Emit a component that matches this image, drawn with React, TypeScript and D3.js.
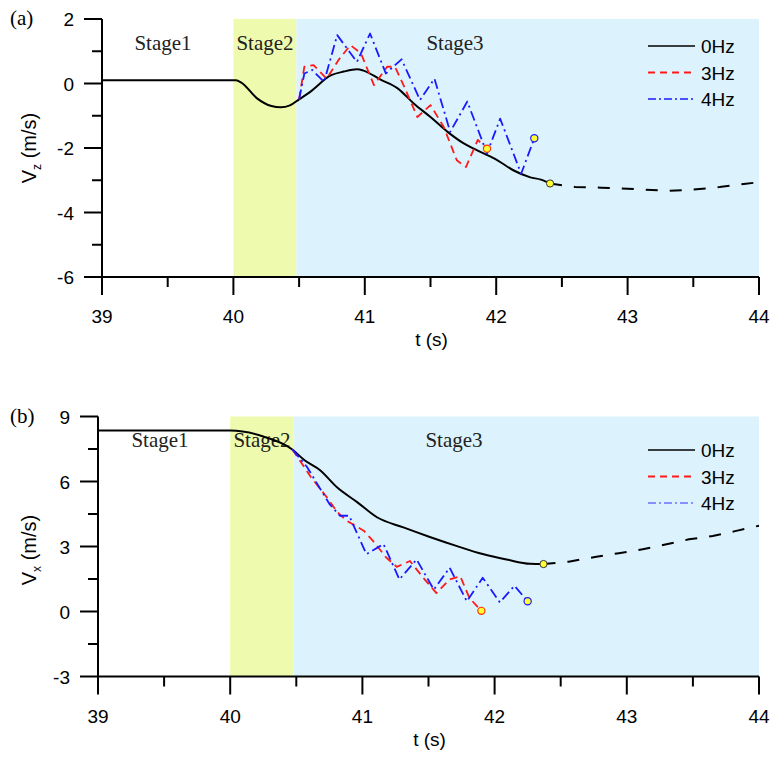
import React from 'react';
import * as d3 from 'd3';

// panel (a): vertical velocity
const tZ0 = [39, 40.02, 40.06, 40.18, 40.29, 40.36, 40.43, 40.5, 40.585, 40.74, 40.84, 40.94, 40.99, 41.12, 41.25, 41.37, 41.5, 41.63, 41.75, 41.88, 42.01, 42.13, 42.26, 42.34, 42.41];
const vZ0 = [0.1, 0.1, 0.03, -0.46, -0.7, -0.74, -0.68, -0.49, -0.26, 0.25, 0.37, 0.44, 0.4, 0.12, -0.15, -0.61, -1.04, -1.5, -1.85, -2.12, -2.38, -2.69, -2.91, -2.98, -3.1];
const tZ0Tail = [42.41, 42.6, 42.8, 43.0, 43.3, 43.5, 43.7, 43.9, 44.0];
const vZ0Tail = [-3.1, -3.21, -3.23, -3.26, -3.33, -3.29, -3.21, -3.11, -3.06];
const tZ3 = [40.5, 40.54, 40.61, 40.71, 40.8, 40.89, 40.97, 41.07, 41.17, 41.23, 41.3, 41.4, 41.5, 41.6, 41.7, 41.77, 41.86, 41.93];
const vZ3 = [-0.49, 0.52, 0.57, 0.15, 0.73, 1.19, 0.94, -0.05, 0.52, 0.52, -0.1, -1.04, -0.67, -1.34, -2.38, -2.59, -1.75, -2.02];
const tZ4 = [40.5, 40.54, 40.6, 40.69, 40.79, 40.94, 41.04, 41.16, 41.23, 41.28, 41.42, 41.53, 41.65, 41.78, 41.93, 42.03, 42.19, 42.29];
const vZ4 = [-0.49, 0.31, 0.42, 0.05, 1.5, 0.67, 1.55, 0.31, 0.57, 0.75, -0.51, 0.15, -1.5, -0.56, -2.17, -1.09, -2.8, -1.7];

// panel (b): horizontal velocity
const tX0 = [39, 40.0, 40.25, 40.47, 40.56, 40.68, 40.81, 40.96, 41.11, 41.31, 41.51, 41.71, 41.91, 42.09, 42.27, 42.37];
const vX0 = [8.35, 8.35, 8.08, 7.48, 6.99, 6.52, 5.72, 5.05, 4.35, 3.88, 3.44, 3.03, 2.65, 2.4, 2.2, 2.19];
const tX0Tail = [42.37, 42.56, 42.77, 42.94, 43.12, 43.3, 43.47, 43.65, 43.82, 44.0];
const vX0Tail = [2.19, 2.3, 2.53, 2.69, 2.87, 3.1, 3.33, 3.48, 3.71, 3.96];
const tX3 = [40.47, 40.61, 40.73, 40.81, 40.88, 41.01, 41.08, 41.18, 41.26, 41.36, 41.46, 41.56, 41.66, 41.74, 41.81, 41.9];
const vX3 = [7.48, 6.21, 5.28, 4.59, 4.19, 3.73, 3.26, 2.49, 2.06, 2.33, 1.56, 0.85, 1.48, 1.63, 0.62, 0.03];
const tX4 = [40.47, 40.58, 40.75, 40.83, 40.9, 41.03, 41.16, 41.28, 41.41, 41.54, 41.66, 41.79, 41.91, 42.04, 42.15, 42.25];
const vX4 = [7.48, 6.68, 4.97, 4.42, 4.42, 2.65, 3.11, 1.48, 2.4, 1.01, 2.02, 0.47, 1.56, 0.42, 1.19, 0.47];

const xTicks = [39, 40, 41, 42, 43, 44];
const xMinor = [39.5, 40.5, 41.5, 42.5, 43.5];
const zTicks = [2, 0, -2, -4, -6];
const zMinor = [1, -1, -3, -5];
const xvTicks = [9, 6, 3, 0, -3];
const xvMinor = [7.5, 4.5, 1.5, -1.5];
const stages = ['Stage1', 'Stage2', 'Stage3'];
const stageBounds = [39, 40, 40.48, 44];
const legendLabels = ['0Hz', '3Hz', '4Hz'];

const SANS = 'Arial, "Liberation Sans", sans-serif';
const SERIF = '"Liberation Serif", "DejaVu Serif", serif';
const GREEN = '#eefbae';
const BLUE = '#dcf2fd';

const zip = (t: number[], v: number[]) => t.map((d, i) => [d, v[i]] as [number, number]);

type PanelProps = {
  tag: string;
  left: number; right: number; top: number; bottom: number;
  yDomain: [number, number];
  yTicks: number[]; yMinor: number[];
  sub: string;
  s0: [number, number][]; tail: [number, number][];
  s3: [number, number][]; s4: [number, number][];
  legendY: number;
  thinLegend4: boolean;
  stageY: number;
  stageX: number[];
  labelCy: number;
};

function Panel(p: PanelProps) {
  const x = d3.scaleLinear().domain([39, 44]).range([p.left, p.right]);
  const y = d3.scaleLinear().domain(p.yDomain).range([p.bottom, p.top]);
  const line = d3.line<[number, number]>().x((d) => x(d[0])).y((d) => y(d[1]));
  const smooth = d3.line<[number, number]>().x((d) => x(d[0])).y((d) => y(d[1])).curve(d3.curveMonotoneX);
  const end0 = p.s0[p.s0.length - 1];
  const end3 = p.s3[p.s3.length - 1];
  const end4 = p.s4[p.s4.length - 1];
  const legX = 648;
  return (
    <g>
      <rect x={x(stageBounds[1])} y={p.top} width={x(stageBounds[2]) - x(stageBounds[1])} height={p.bottom - p.top} fill={GREEN} />
      <rect x={x(stageBounds[2])} y={p.top} width={x(stageBounds[3]) - x(stageBounds[2])} height={p.bottom - p.top} fill={BLUE} />
      {stages.map((s, i) => (
        <text key={s} x={p.stageX[i]} y={p.stageY} textAnchor="middle" fontFamily={SERIF} fontSize={21} fill="#222">{s}</text>
      ))}
      <path d={smooth(p.s0) || ''} fill="none" stroke="#000" strokeWidth={2} />
      <path d={line(p.tail) || ''} fill="none" stroke="#000" strokeWidth={2} strokeDasharray="12,12" />
      <path d={line(p.s3) || ''} fill="none" stroke="#ff1a1a" strokeWidth={1.8} strokeDasharray="8,5" strokeLinejoin="round" />
      <path d={line(p.s4) || ''} fill="none" stroke="#1a1aff" strokeWidth={1.8} strokeDasharray="10,4,2,4" strokeLinejoin="round" />
      <circle cx={x(end3[0])} cy={y(end3[1])} r={3.6} fill="#ffff33" stroke="#ff3300" strokeWidth={1.2} />
      <circle cx={x(end4[0])} cy={y(end4[1])} r={3.6} fill="#ffff33" stroke="#1a1aff" strokeWidth={1.2} />
      <circle cx={x(end0[0])} cy={y(end0[1])} r={3.6} fill="#ffff33" stroke="#333" strokeWidth={1} />
      {/* axes */}
      <line x1={p.left} x2={p.left} y1={p.top} y2={p.bottom} stroke="#000" strokeWidth={2} />
      <line x1={p.left} x2={p.right} y1={p.bottom} y2={p.bottom} stroke="#000" strokeWidth={2} />
      {p.yTicks.map((t) => (
        <g key={'y' + t}>
          <line x1={p.left - 18} x2={p.left} y1={y(t)} y2={y(t)} stroke="#000" strokeWidth={2} />
          <text x={p.left - 28} y={y(t) + 7} textAnchor="end" fontFamily={SANS} fontSize={19}>{t}</text>
        </g>
      ))}
      {p.yMinor.map((t) => (
        <line key={'ym' + t} x1={p.left - 10} x2={p.left} y1={y(t)} y2={y(t)} stroke="#000" strokeWidth={2} />
      ))}
      {xTicks.map((t) => (
        <g key={'x' + t}>
          <line x1={x(t)} x2={x(t)} y1={p.bottom} y2={p.bottom + 18} stroke="#000" strokeWidth={2} />
          <text x={x(t)} y={p.bottom + 46} textAnchor="middle" fontFamily={SANS} fontSize={19}>{t}</text>
        </g>
      ))}
      {xMinor.map((t) => (
        <line key={'xm' + t} x1={x(t)} x2={x(t)} y1={p.bottom} y2={p.bottom + 10} stroke="#000" strokeWidth={2} />
      ))}
      <text x={(p.left + p.right) / 2 + 1} y={p.bottom + 69} textAnchor="middle" fontFamily={SANS} fontSize={19}>t (s)</text>
      <text transform={`translate(36,${p.labelCy}) rotate(-90)`} textAnchor="middle" fontFamily={SANS} fontSize={20}>
        V<tspan fontSize={12} dy={5}>{p.sub}</tspan><tspan dy={-5}> (m/s)</tspan>
      </text>
      <text x={10} y={p.top + 6} fontFamily={SERIF} fontSize={21}>{p.tag}</text>
      {/* legend */}
      {legendLabels.map((l, i) => {
        const ly = p.legendY + i * 26.5;
        const style = i === 0
          ? { stroke: '#000', dash: undefined, w: 1.6 }
          : i === 1
            ? { stroke: '#ff1a1a', dash: '7,5', w: 1.8 }
            : { stroke: '#1a1aff', dash: '8,3,2,3', w: p.thinLegend4 ? 0.9 : 1.6 };
        return (
          <g key={l}>
            <line x1={legX} x2={legX + 47} y1={ly} y2={ly} stroke={style.stroke} strokeWidth={style.w} strokeDasharray={style.dash} />
            <text x={legX + 53} y={ly + 7} fontFamily={SANS} fontSize={19}>{l}</text>
          </g>
        );
      })}
    </g>
  );
}

export default function App() {
  return (
    <svg width={771} height={761} style={{ position: 'absolute', left: 0, top: 0, background: '#fff' }}>
      <Panel tag="(a)" left={102} right={759} top={19} bottom={277} yDomain={[-6, 2]}
        yTicks={zTicks} yMinor={zMinor} sub="z"
        s0={zip(tZ0, vZ0)} tail={zip(tZ0Tail, vZ0Tail)} s3={zip(tZ3, vZ3)} s4={zip(tZ4, vZ4)}
        legendY={46} thinLegend4={false} stageY={50} stageX={[163, 265, 455]} labelCy={148} />
      <Panel tag="(b)" left={98} right={759} top={416.5} bottom={676.5} yDomain={[-3, 9]}
        yTicks={xvTicks} yMinor={xvMinor} sub="x"
        s0={zip(tX0, vX0)} tail={zip(tX0Tail, vX0Tail)} s3={zip(tX3, vX3)} s4={zip(tX4, vX4)}
        legendY={450} thinLegend4={true} stageY={447} stageX={[160, 262, 454]} labelCy={550} />
    </svg>
  );
}
